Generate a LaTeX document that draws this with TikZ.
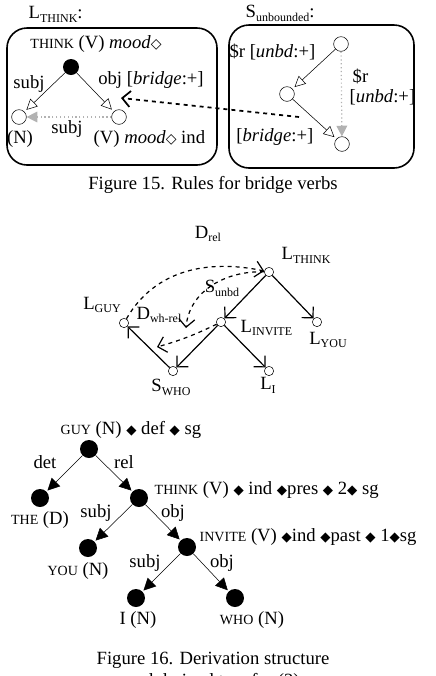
\documentclass[tikz,border=0pt]{standalone}
\usepackage{fontspec}
\setmainfont{Liberation Serif}
\newfontfamily\symfont{DejaVu Sans}
\usetikzlibrary{positioning,arrows.meta}
\newcommand\lowsub[1]{\raisebox{-0.45ex}{\fontsize{9}{10}\selectfont #1}}
\newcommand\capsm[1]{{\fontsize{10.5}{11}\selectfont #1}}
\newcommand\bdia{{\symfont\fontsize{10}{10}\selectfont ◆}}
\newcommand\wdia{{\symfont\fontsize{10.5}{10}\selectfont ◇}}

\begin{document}
\begin{tikzpicture}[x=0.75pt,y=-0.75pt,font=\fontsize{14}{16}\selectfont,
  dot/.style={circle,fill=black,inner sep=0pt,minimum size=12pt},
  bigdot/.style={circle,fill=black,inner sep=0pt,minimum size=13.5pt},
  hole/.style={circle,draw,inner sep=0pt,minimum size=11pt},
  pin/.style={circle,draw,inner sep=0pt,minimum size=7pt},
  frame/.style={draw,line width=1.2pt,rounded corners=15pt},
  openarr/.style={-{Triangle[open,fill=white,length=8pt,width=8pt]},shorten >=2pt},
  greyarr/.style={gray!60,dotted,line width=0.9pt,-{Triangle[length=8pt,width=8pt]}},
  barb/.style={-{Straight Barb[length=6pt,width=12pt]},line width=0.9pt},
  dasharr/.style={barb,dashed},
  treearr/.style={-{Triangle[length=9pt,width=9pt]},shorten >=1pt}]
\useasboundingbox (0,0) rectangle (436,676);
% Frames
\draw[frame] (7,28) rectangle (217,165);
\draw[frame] (229,25) rectangle (414,168);
\node[anchor=west] (lthinkT) at (24,14) {L\lowsub{THINK}:};
\node[anchor=west] (sunbT) at (241,13) {S\lowsub{unbounded}:};
% Nodes of L_think
\node[dot] (think) at (71,67) {};
\node[hole] (n) at (19,117) {};
\node[hole] (v) at (119,117) {};
\node (thinkL) at (96,44) {\capsm{THINK} (V) \textit{mood}\wdia};
\node (nL) at (20,139) {(N)};
\node[anchor=west] (vL) at (89,139) {(V) \textit{mood}\wdia\ ind};
\draw[openarr] (think) -- (n);
\draw[openarr] (think) -- (v);
\draw[greyarr] (v) -- (n);
\node (subjT) at (29,84) {subj};
\node (objT) at (151,80) {obj [\textit{bridge}:+]};
\node (subjD) at (67,129) {subj};
% Nodes of S_unbounded
\node[hole] (r1) at (341,44) {};
\node[hole] (r2) at (287,94) {};
\node[hole] (r3) at (342,144) {};
\draw[openarr] (r1) -- (r2);
\draw[openarr] (r2) -- (r3);
\draw[greyarr] (r1) -- (r3);
\node[anchor=east] (r1L) at (320,52) {\$r [\textit{unbd}:+]};
\node[anchor=west] (dolL) at (348,76) {\$r};
\node[anchor=west] (unbdL) at (345,97) {[\textit{unbd}:+]};
\node[anchor=east] (bridgeL) at (318,137) {[\textit{bridge}:+]};
% Link between the rules
\coordinate (jump) at (299,117);
\coordinate (target) at (121,98);
\draw[-{Straight Barb[length=6pt,width=12pt]},dashed,line width=1.3pt] (jump) -- (target);
\node (cap15) at (213,185) {Figure 15. Rules for bridge verbs};
% Derivation structure
\node[pin] (lt) at (269,272) {};
\node[pin] (lg) at (124,323) {};
\node[pin] (li) at (221,322) {};
\node[pin] (ly) at (317,322) {};
\node[pin] (sw) at (173,371) {};
\node[pin] (lI) at (269,371) {};
\node[anchor=west] (ltL) at (277,255) {L\lowsub{THINK}};
\node (lgL) at (102,305) {L\lowsub{GUY}};
\node[anchor=west] (liL) at (236,328) {L\lowsub{INVITE}};
\node (lyL) at (328,340) {L\lowsub{YOU}};
\node (swL) at (171,387) {S\lowsub{WHO}};
\node (lIL) at (268,385) {L\lowsub{I}};
\node (drelL) at (208,234) {D\lowsub{rel}};
\node (sunbdL) at (222,288) {S\lowsub{unbd}};
\node (dwhL) at (159,315) {D\lowsub{wh-rel}};
\coordinate (sdrop) at (186,328);
\coordinate (wdrop) at (157,347);
\draw[barb] (lt) -- (li);
\draw[barb] (lt) -- (ly);
\draw[barb] (li) -- (sw);
\draw[barb] (li) -- (lI);
\draw[barb] (sw) -- (lg);
\draw[dasharr] (lg) to[out=60,in=168] (lt);
\draw[dasharr] (lt) to[out=178,in=85] (sdrop);
\draw[dasharr] (li) to[bend left=5] (wdrop);
% Derived tree
\node[bigdot] (guy) at (89,449) {};
\node[bigdot] (the) at (40,498) {};
\node[bigdot] (thk) at (139,498) {};
\node[bigdot] (you) at (88,548) {};
\node[bigdot] (inv) at (187,547) {};
\node[bigdot] (i) at (136,598) {};
\node[bigdot] (who) at (235,598) {};
\node[anchor=west] (guyL) at (56,430) {\capsm{GUY} (N) \bdia\ def \bdia\ sg};
\node (theL) at (40,520) {\capsm{THE} (D)};
\node[anchor=west] (thkL) at (150,490) {\capsm{THINK} (V) \bdia\ ind \bdia pres \bdia\ 2\bdia\ sg};
\node (youL) at (78,571) {\capsm{YOU} (N)};
\node[anchor=west] (invL) at (195,537) {\capsm{INVITE} (V) \bdia ind \bdia past \bdia\ 1\bdia sg};
\node (iL) at (138,620) {I (N)};
\node (whoL) at (252,620) {\capsm{WHO} (N)};
\draw[treearr] (guy) -- (the);
\draw[treearr] (guy) -- (thk);
\draw[treearr] (thk) -- (you);
\draw[treearr] (thk) -- (inv);
\draw[treearr] (inv) -- (i);
\draw[treearr] (inv) -- (who);
\node (detL) at (45,462) {det};
\node (relL) at (124,462) {rel};
\node (subjA) at (96,513) {subj};
\node (objA) at (173,513) {obj};
\node (subjB) at (145,563) {subj};
\node (objB) at (222,563) {obj};
\node (cap16) at (213,660) {Figure 16. Derivation structure};
\node (cap16b) at (213,682) {and derived tree for (2)};
\end{tikzpicture}
\end{document}
